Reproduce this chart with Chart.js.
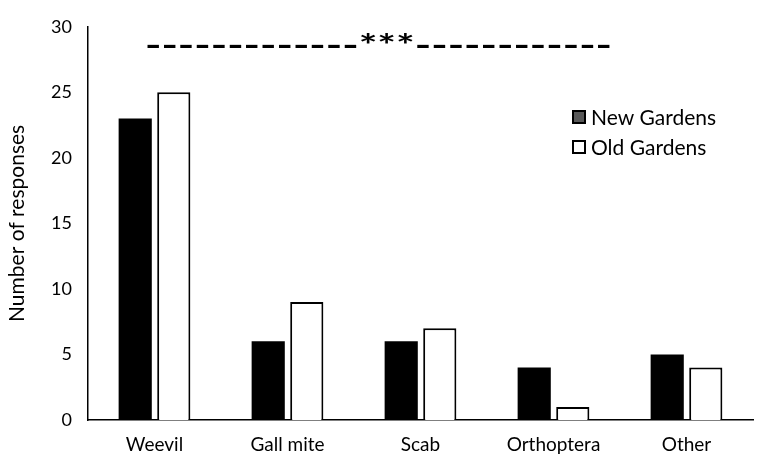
<!DOCTYPE html>
<html>
<head>
<meta charset="utf-8">
<script src="https://cdn.jsdelivr.net/npm/chart.js@4"></script>
<style>
html,body{margin:0;padding:0;background:#fff;}
#wrap{width:763px;height:463px;position:relative;}
</style>
</head>
<body>
<div id="wrap"><canvas id="c" width="763" height="463"></canvas></div>
<script>
const categories = ["Weevil", "Gall mite", "Scab", "Orthoptera", "Other"];
const newGardens = [23, 6, 6, 4, 5];
const oldGardens = [25, 9, 7, 1, 4];
const seriesNames = ["New Gardens", "Old Gardens"];
const yTicks = [0, 5, 10, 15, 20, 25, 30];
const yTitle = "Number of responses";
const sigText = "-------------***------------";

const FONT = "Lato, 'Open Sans', sans-serif";

const overlay = {
  id: 'overlay',
  afterDraw(chart) {
    const ctx = chart.ctx;
    ctx.save();
    // significance text
    ctx.fillStyle = '#000';
    ctx.textBaseline = 'middle';
    ctx.textAlign = 'left';
    ctx.font = "bold 30px " + FONT;
    const w = ctx.measureText(sigText).width;
    const targetW = 467;
    ctx.translate(145, 46);
    ctx.scale(targetW / w, 1);
    ctx.fillText(sigText, 0, 0);
    ctx.restore();

    // legend
    ctx.save();
    ctx.font = "21px " + FONT;
    ctx.textBaseline = 'middle';
    const items = [
      {fill: '#595959', stroke: '#000', y: 117},
      {fill: '#ffffff', stroke: '#000', y: 147}
    ];
    items.forEach((it, i) => {
      ctx.fillStyle = it.fill;
      ctx.strokeStyle = it.stroke;
      ctx.lineWidth = 2;
      ctx.fillRect(573, it.y - 6, 12, 12);
      ctx.strokeRect(573, it.y - 6, 12, 12);
      ctx.fillStyle = '#000';
      ctx.fillText(chart.data.datasets[i].label, 591, it.y + 1);
    });
    ctx.restore();
  }
};

new Chart(document.getElementById('c'), {
  type: 'bar',
  data: {
    labels: categories,
    datasets: [
      {label: seriesNames[0], data: newGardens, backgroundColor: '#000', borderColor: '#000', borderWidth: 0,
       categoryPercentage: 0.58, barPercentage: 0.86},
      {label: seriesNames[1], data: oldGardens, backgroundColor: '#fff', borderColor: '#000', borderWidth: 2,
       categoryPercentage: 0.58, barPercentage: 0.86}
    ]
  },
  options: {
    responsive: false,
    animation: false,
    devicePixelRatio: 1,
    layout: {padding: {top: 20, right: 10, left: 0, bottom: 0}},
    plugins: {legend: {display: false}, tooltip: {enabled: false}},
    scales: {
      x: {
        grid: {display: false, drawTicks: false},
        border: {display: true, color: '#000', width: 1.5},
        ticks: {color: '#000', font: {family: FONT, size: 19}, padding: 13, maxRotation: 0},
        afterFit(s) { s.height = 43; }
      },
      y: {
        min: 0, max: 30,
        afterBuildTicks(s) { s.ticks = yTicks.map(v => ({value: v})); },
        grid: {display: false, drawTicks: false},
        border: {display: true, color: '#000', width: 1.5},
        ticks: {color: '#000', font: {family: FONT, size: 18}, padding: 16},
        title: {display: true, text: yTitle, color: '#000', font: {family: FONT, size: 21}, padding: {top: 5, bottom: 3}},
        afterFit(s) { s.width = 88; }
      }
    }
  },
  plugins: [overlay]
});
</script>
</body>
</html>
